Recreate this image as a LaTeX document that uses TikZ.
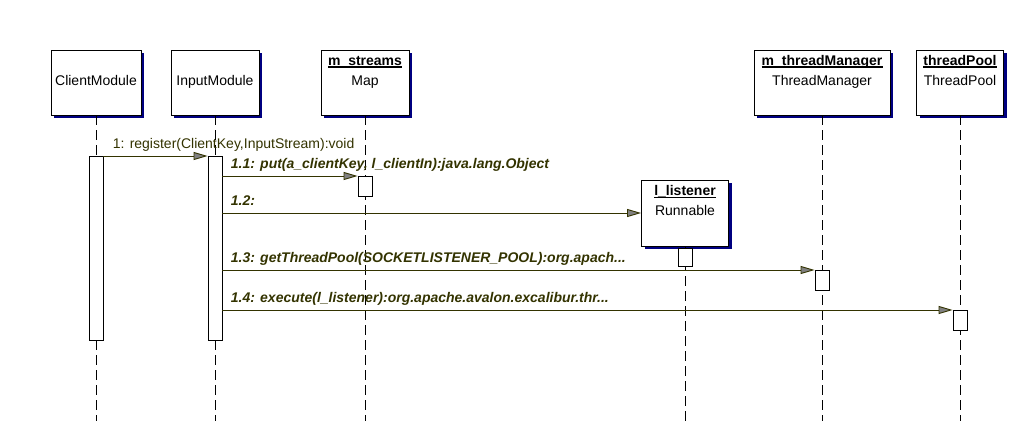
\documentclass[tikz,border=0pt]{standalone}
\usepackage{fontspec}
\setmainfont{Liberation Sans}
\usetikzlibrary{arrows.meta,shadows}
\definecolor{msgcol}{RGB}{51,51,0}
\definecolor{shadowcol}{RGB}{0,0,128}
\begin{document}
\begin{tikzpicture}[x=1pt,y=-1pt,font=\fontsize{14}{16}\selectfont,
	objbox/.style={draw, fill=white, line width=0.9pt, minimum height=65pt, inner sep=0pt,
		drop shadow={fill=shadowcol, opacity=1, shadow xshift=3pt, shadow yshift=-3pt}},
	objname/.style={font=\fontsize{14}{16}\selectfont\bfseries, inner sep=0pt, anchor=base},
	objclass/.style={inner sep=0pt, anchor=base},
	lifeline/.style={line width=0.9pt, dash pattern=on 10pt off 5pt},
	actbox/.style={draw, fill=white, line width=0.9pt, minimum width=14pt, inner sep=0pt, anchor=north},
	msg/.style={draw=msgcol, line width=0.9pt, -{Triangle[length=14pt, width=8pt, fill=gray]}},
	msglabel/.style={text=msgcol, inner sep=0pt, anchor=base west, xshift=8pt, yshift=8pt,
		font=\fontsize{14}{16}\selectfont\bfseries\itshape}]
	\useasboundingbox (0,0) rectangle (1016,431);
	% objects
	\node[objbox, minimum width=90pt] (client) at (96,82.5) {};
	\node[objclass] at (96,85) {ClientModule};
	\node[objbox, minimum width=88pt] (input) at (215,82.5) {};
	\node[objclass] at (215,85) {InputModule};
	\node[objbox, minimum width=88pt] (streams) at (365,82.5) {};
	\node[objname] (streamsName) at (365,65) {m\_streams};
	\node[objclass] at (365,85) {Map};
	\node[objbox, minimum width=136pt] (manager) at (822,82.5) {};
	\node[objname] (managerName) at (822,65) {m\_threadManager};
	\node[objclass] at (822,85) {ThreadManager};
	\node[objbox, minimum width=87pt] (pool) at (960,82.5) {};
	\node[objname] (poolName) at (960,65) {threadPool};
	\node[objclass] at (960,85) {ThreadPool};
	\node[objbox, minimum width=87pt, minimum height=66pt] (listener) at (685,213) {};
	\node[objname] (listenerName) at (685,195.5) {l\_listener};
	\node[objclass] at (685,215.5) {Runnable};
	\foreach \n in {streamsName,managerName,poolName,listenerName}
		\draw[line width=1.2pt] ([yshift=-2pt]\n.base west) -- ([yshift=-2pt]\n.base east);
	% lifelines
	\coordinate (bottom) at (0,421);
	\foreach \o in {client,input,streams,listener,manager,pool}
		\draw[lifeline] (\o.south) -- (\o.south |- bottom);
	% activations
	\node[actbox, minimum height=184pt] (clientAct) at (96,156) {};
	\node[actbox, minimum height=184pt] (inputAct) at (215,156) {};
	\node[actbox, minimum height=20pt] (streamsAct) at (365,176) {};
	\node[actbox, minimum height=18pt] (listenerAct) at (685,248) {};
	\node[actbox, minimum height=20pt] (managerAct) at (822,270) {};
	\node[actbox, minimum height=20pt] (poolAct) at (960,310) {};
	% messages
	\draw[msg] (clientAct.north east) -- (inputAct.north west)
		node[pos=0, msglabel, font=\fontsize{14}{16}\selectfont, xshift=1pt] {1: register(ClientKey,InputStream):void};
	\draw[msg] (inputAct.east |- streamsAct.north) -- (streamsAct.north west)
		node[pos=0, msglabel] {1.1: put(a\_clientKey, l\_clientIn):java.lang.Object};
	\draw[msg] (inputAct.east |- listener.west) -- (listener.west)
		node[pos=0, msglabel] {1.2:};
	\draw[msg] (inputAct.east |- managerAct.north) -- (managerAct.north west)
		node[pos=0, msglabel] {1.3: getThreadPool(SOCKETLISTENER\_POOL):org.apach...};
	\draw[msg] (inputAct.east |- poolAct.north) -- (poolAct.north west)
		node[pos=0, msglabel] {1.4: execute(l\_listener):org.apache.avalon.excalibur.thr...};
\end{tikzpicture}
\end{document}
